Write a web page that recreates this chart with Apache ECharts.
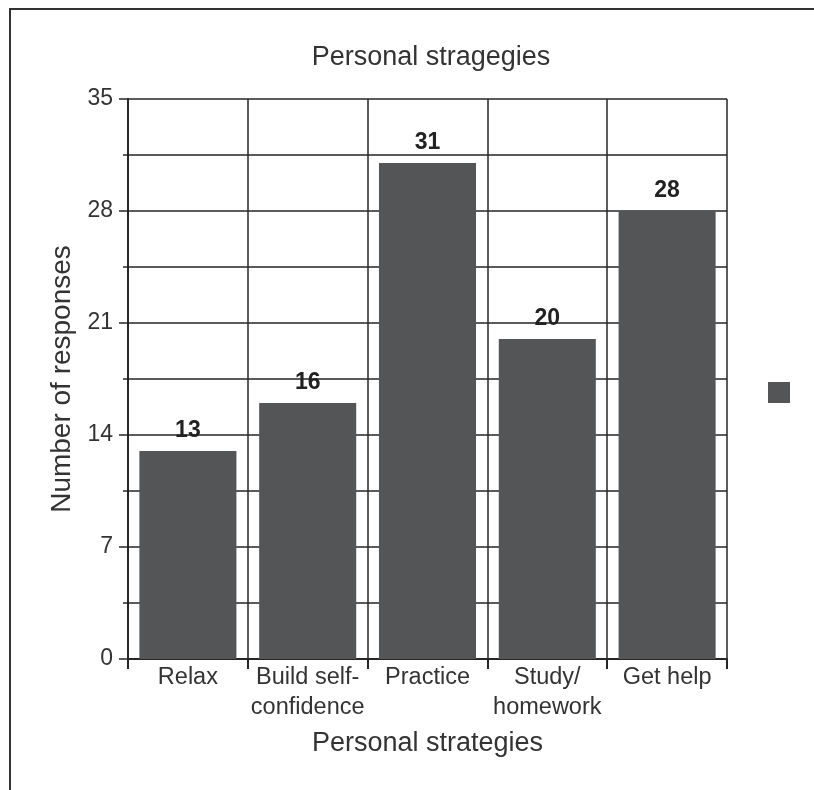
<!DOCTYPE html>
<html>
<head>
<meta charset="utf-8">
<script src="https://cdn.jsdelivr.net/npm/echarts@6/dist/echarts.min.js"></script>
<style>
html,body{margin:0;padding:0;background:#fff;}
#chart{width:814px;height:790px;}
</style>
</head>
<body>
<div id="chart"></div>
<script>
const categories = ['Relax', 'Build self-\nconfidence', 'Practice', 'Study/\nhomework', 'Get help'];
const responses = [13, 16, 31, 20, 28];
const yTicks = [0, 7, 14, 21, 28, 35];
const titleText = 'Personal stragegies';
const xAxisName = 'Personal strategies';
const yAxisName = 'Number of responses';

const chart = echarts.init(document.getElementById('chart'), null, {renderer: 'canvas'});
const font = 'Liberation Sans, Arial, Helvetica, sans-serif';
const ink = '#262626';
const textColor = '#333';

chart.setOption({
  animation: false,
  textStyle: {fontFamily: font},
  graphic: [{
    type: 'rect',
    shape: {x: 10, y: 9, width: 1000, height: 1000},
    style: {fill: 'none', stroke: '#333', lineWidth: 2},
    silent: true
  }],
  title: {
    text: titleText,
    left: 426,
    textAlign: 'center',
    top: 39,
    textStyle: {fontSize: 27, fontWeight: 'normal', color: textColor, fontFamily: font}
  },
  legend: {
    left: 763, top: 377,
    itemWidth: 22, itemHeight: 21,
    icon: 'rect',
    formatter: function () { return ''; },
    data: ['Responses']
  },
  grid: {left: 128, right: 87, top: 99, bottom: 131, containLabel: false},
  xAxis: {
    type: 'category',
    data: categories,
    name: xAxisName,
    nameLocation: 'middle',
    nameGap: 71,
    nameTextStyle: {fontSize: 27, color: textColor, fontFamily: font},
    axisLine: {show: true, lineStyle: {color: ink, width: 2}},
    axisTick: {show: true, length: 10, lineStyle: {color: ink, width: 2}},
    axisLabel: {interval: 0, fontSize: 23.5, color: textColor, lineHeight: 30, margin: 4, fontFamily: font},
    splitLine: {show: true, lineStyle: {color: ink, width: 1.5}}
  },
  yAxis: {
    type: 'value',
    min: yTicks[0],
    max: yTicks[yTicks.length - 1],
    interval: yTicks[1] - yTicks[0],
    name: yAxisName,
    nameLocation: 'middle',
    nameGap: 50,
    nameTextStyle: {fontSize: 28, color: textColor, fontFamily: font},
    axisLine: {show: true, lineStyle: {color: ink, width: 2}},
    axisTick: {show: true, length: 9, lineStyle: {color: ink, width: 1.5}},
    minorTick: {show: true, splitNumber: 2, length: 5, lineStyle: {color: ink, width: 1.5}},
    minorSplitLine: {show: true, lineStyle: {color: ink, width: 1.5}},
    axisLabel: {fontSize: 23, color: textColor, margin: 15, fontFamily: font},
    splitLine: {show: true, lineStyle: {color: ink, width: 1.5}}
  },
  series: [{
    name: 'Responses',
    type: 'bar',
    data: responses,
    barCategoryGap: '19%',
    itemStyle: {color: '#545557'},
    label: {show: true, position: 'top', distance: 9, fontSize: 23, fontWeight: 'bold', color: '#222', fontFamily: font}
  }]
});
</script>
</body>
</html>
